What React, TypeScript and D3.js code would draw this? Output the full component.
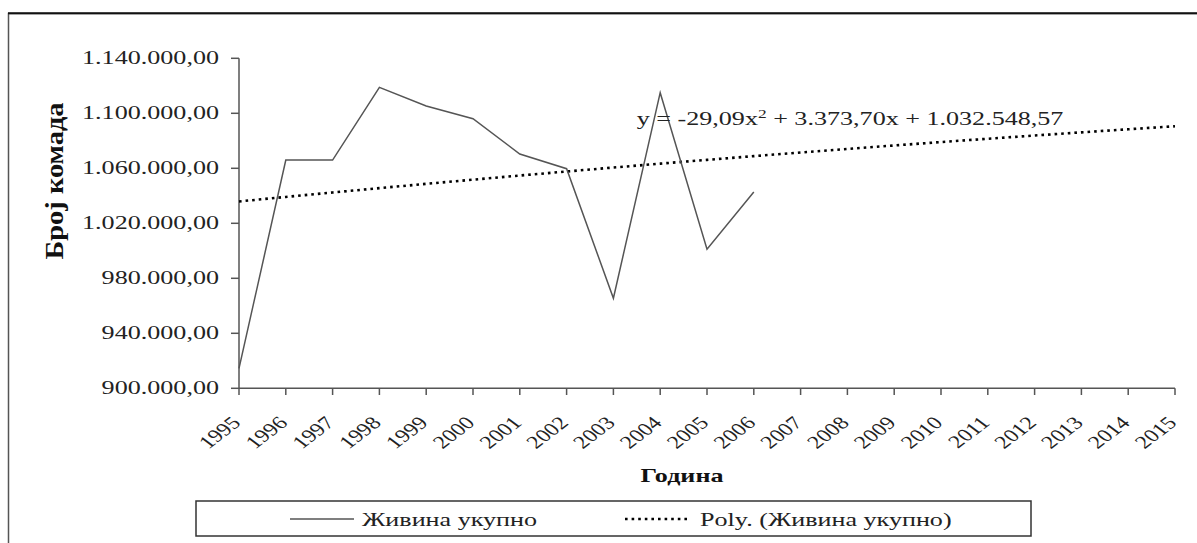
import React from "react";
import * as d3 from "d3";

const years = ["1995","1996","1997","1998","1999","2000","2001","2002","2003","2004","2005","2006","2007","2008","2009","2010","2011","2012","2013","2014","2015"];
const dataYears = ["1995","1996","1997","1998","1999","2000","2001","2002","2003","2004","2005","2006"];
const values = [914500, 1066000, 1066000, 1118900, 1105300, 1096100, 1070400, 1059700, 965500, 1115000, 1001100, 1042800];
const yTicks = [900000, 940000, 980000, 1020000, 1060000, 1100000, 1140000];
const trendCoef = { a: -29.09, b: 3373.7, c: 1032548.57 };
const equationParts = ["y = -29,09x", "2", " + 3.373,70x + 1.032.548,57"];
const seriesName = "Живина укупно";
const trendName = "Poly. (Живина укупно)";
const xTitle = "Година";
const yTitle = "Број комада";

const W = 1197, H = 543;
const SX = 1.45;
const SX_LABEL = 1.32;
const FONT = "'Liberation Serif', 'Times New Roman', serif";

const loc = d3.formatLocale({ decimal: ",", thousands: ".", grouping: [3], currency: ["", ""] });
const fmt = loc.format(",.2f");

export default function App() {
  const x = d3.scalePoint<string>().domain(years).range([239, 1175]);
  const y = d3.scaleLinear().domain([900000, 1140000]).range([388.3, 58.3]);

  const line = d3.line<[number, number]>().x(d => d[0]).y(d => d[1]);
  const seriesPts: [number, number][] = dataYears.map((yr, i) => [x(yr)!, y(values[i])]);
  const trendPts: [number, number][] = years.map((yr, i) => {
    const t = i + 1;
    return [x(yr)!, y(trendCoef.a * t * t + trendCoef.b * t + trendCoef.c)];
  });

  const axisColor = "#555";
  const textColor = "#222";

  return (
    <svg width={W} height={H} style={{ position: "absolute", left: 0, top: 0, background: "#fff" }} fontFamily={FONT}>
      {/* outer frame */}
      <rect x={8.5} y={13.5} width={1400} height={800} fill="#fff" stroke="#555" strokeWidth={1.5} />
      <line x1={8} x2={W} y1={13.3} y2={13.3} stroke="#111" strokeWidth={2} />

      {/* y axis */}
      <line x1={239} x2={239} y1={y.range()[1]} y2={y.range()[0]} stroke={axisColor} strokeWidth={1.5} />
      {yTicks.map(v => (
        <g key={v}>
          <line x1={231} x2={239} y1={y(v)} y2={y(v)} stroke={axisColor} strokeWidth={1.5} />
          <text transform={`translate(219,${y(v) + 6}) scale(${SX},1)`} textAnchor="end" fontSize={18} fill={textColor}>{fmt(v)}</text>
        </g>
      ))}

      {/* x axis */}
      <line x1={239} x2={x(years[years.length - 1])!} y1={388.3} y2={388.3} stroke={axisColor} strokeWidth={1.5} />
      {years.map(yr => (
        <g key={yr}>
          <line x1={x(yr)!} x2={x(yr)!} y1={388.3} y2={395} stroke={axisColor} strokeWidth={1.5} />
          <text transform={`translate(${x(yr)! + 3},424) scale(${SX_LABEL},1) rotate(-45)`} textAnchor="end" fontSize={18} fill={textColor}>{yr}</text>
        </g>
      ))}

      {/* titles */}
      <text transform={`translate(682,482) scale(${SX},1)`} textAnchor="middle" fontSize={18} fontWeight="bold" fill="#111">{xTitle}</text>
      <text transform={`translate(63,181) scale(${SX},1) rotate(-90)`} textAnchor="middle" fontSize={18} fontWeight="bold" fill="#111" textLength={157} lengthAdjust="spacingAndGlyphs">{yTitle}</text>

      {/* trend */}
      <path d={line(trendPts)!} fill="none" stroke="#000" strokeWidth={2.6} strokeDasharray="2.6,4" />
      {/* series */}
      <path d={line(seriesPts)!} fill="none" stroke="#555" strokeWidth={1.5} strokeLinejoin="miter" />

      {/* equation */}
      <text transform={`translate(636.7,125) scale(${SX},1)`} fontSize={18} fill={textColor}>
        <tspan>{equationParts[0]}</tspan>
        <tspan fontSize={12} dy={-7}>{equationParts[1]}</tspan>
        <tspan dy={7}>{equationParts[2]}</tspan>
      </text>

      {/* legend */}
      <rect x={196} y={501} width={835} height={35} fill="#fff" stroke="#333" strokeWidth={1.5} />
      <line x1={290} x2={354} y1={519} y2={519} stroke="#555" strokeWidth={1.5} />
      <text transform={`translate(362,526) scale(${SX},1)`} fontSize={18} fill={textColor}>{seriesName}</text>
      <line x1={625} x2={689} y1={519} y2={519} stroke="#000" strokeWidth={2.6} strokeDasharray="2.6,4" />
      <text transform={`translate(700,526) scale(${SX},1)`} fontSize={18} fill={textColor}>{trendName}</text>
    </svg>
  );
}
